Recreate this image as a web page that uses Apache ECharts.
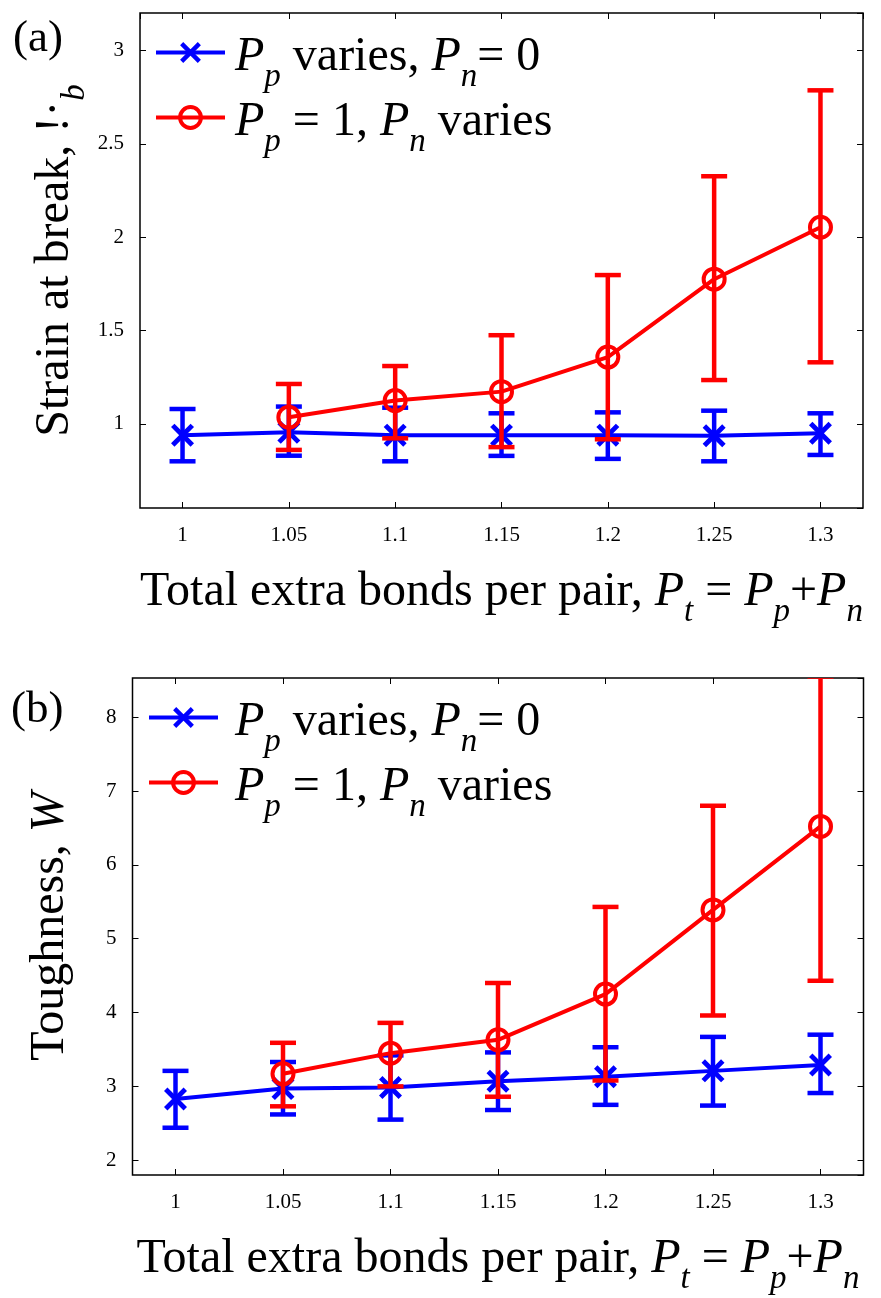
<!DOCTYPE html>
<html>
<head>
<meta charset="utf-8">
<title>Strain at break and toughness</title>
<script src="https://cdn.jsdelivr.net/npm/echarts@6/dist/echarts.min.js"></script>
<style>
  html, body { margin: 0; padding: 0; background: #fff; }
  #chart { width: 881px; height: 1298px; }
</style>
</head>
<body>
<div id="chart"></div>
<script>
// x positions (total extra bonds per pair)
const xBlue = [1, 1.05, 1.1, 1.15, 1.2, 1.25, 1.3];
const xRed = [1.05, 1.1, 1.15, 1.2, 1.25, 1.3];

// (a) strain at break
const strainBlue   = [0.94, 0.955, 0.94, 0.94, 0.94, 0.937, 0.95];
const strainBlueLo = [0.80, 0.83, 0.80, 0.829, 0.813, 0.80, 0.834];
const strainBlueHi = [1.08, 1.093, 1.087, 1.057, 1.062, 1.071, 1.057];
const strainRed    = [1.036, 1.125, 1.173, 1.358, 1.775, 2.053];
const strainRedLo  = [0.861, 0.923, 0.876, 0.918, 1.235, 1.33];
const strainRedHi  = [1.214, 1.31, 1.475, 1.797, 2.326, 2.786];

// (b) toughness
const toughBlue   = [2.83, 2.97, 2.985, 3.07, 3.13, 3.21, 3.29];
const toughBlueLo = [2.44, 2.62, 2.55, 2.68, 2.75, 2.74, 2.91];
const toughBlueHi = [3.21, 3.33, 3.42, 3.46, 3.53, 3.67, 3.70];
const toughRed    = [3.17, 3.45, 3.63, 4.25, 5.39, 6.52];
const toughRedLo  = [2.73, 3.0, 2.86, 3.08, 3.96, 4.43];
const toughRedHi  = [3.59, 3.86, 4.40, 5.43, 6.80, 8.55];

const BLUE = '#0000ff';
const RED = '#ff0000';
const SERIF = "'Liberation Serif', 'Times New Roman', serif";
const X_MARK = 'path://M0,1.5L1.5,0L10,8.5L8.5,10Z M8.5,0L10,1.5L1.5,10L0,8.5Z';

// rich text styles; subscripts are pushed down with top padding
function richSet(extraTop) {
  const subTop = extraTop + 40;
  return {
    r: { fontFamily: SERIF, fontSize: 48, lineHeight: 50, color: '#000', padding: [extraTop, 0, 0, 0] },
    i: { fontFamily: SERIF, fontSize: 48, lineHeight: 50, fontStyle: 'italic', color: '#000', padding: [extraTop, 0, 0, 0] },
    s: { fontFamily: SERIF, fontSize: 33, lineHeight: 10, fontStyle: 'italic', color: '#000', padding: [subTop, 0, 0, 0] }
  };
}
const titleRich = richSet(0);
const legendRich = richSet(10);

const xTitle = '{r|Total extra bonds per pair, }{i|P}{s|t}{r| = }{i|P}{s|p}{r|+}{i|P}{s|n}';

function pairs(xs, ys) {
  return xs.map((x, k) => [x, ys[k]]);
}
function triples(xs, lo, hi) {
  return xs.map((x, k) => [x, lo[k], hi[k]]);
}

function xAxisFor(gridIndex, position, name) {
  return {
    type: 'value', gridIndex, position, min: 0.98, max: 1.32, splitNumber: 7,
    axisLine: { show: false },
    axisTick: { show: true, inside: true, length: 6, lineStyle: { color: '#000', width: 1 } },
    splitLine: { show: false },
    axisLabel: {
      show: position === 'bottom', margin: 17, showMinLabel: false, showMaxLabel: false,
      fontFamily: SERIF, fontSize: 21, color: '#000'
    },
    name: name || '', nameLocation: 'middle', nameGap: 59, nameMoveOverlap: false,
    nameTextStyle: { rich: titleRich }
  };
}

function yAxisFor(gridIndex, position, min, max, splitNumber, name, gap) {
  return {
    type: 'value', gridIndex, position, min, max, splitNumber,
    axisLine: { show: false },
    axisTick: { show: true, inside: true, length: 6, lineStyle: { color: '#000', width: 1 } },
    splitLine: { show: false },
    axisLabel: {
      show: position === 'left', margin: 16, showMinLabel: false, showMaxLabel: false,
      fontFamily: SERIF, fontSize: 21, color: '#000'
    },
    name: name || '', nameLocation: 'middle', nameGap: gap || 60, nameMoveOverlap: false,
    nameTextStyle: { rich: titleRich }
  };
}

function errorBars(color) {
  return function (params, api) {
    const x = api.value(0);
    const hi = api.coord([x, api.value(2)]);
    const lo = api.coord([x, api.value(1)]);
    const half = 13;
    const style = { stroke: color, lineWidth: 4.5 };
    return {
      type: 'group',
      children: [
        { type: 'line', shape: { x1: hi[0], y1: hi[1], x2: lo[0], y2: lo[1] }, style },
        { type: 'line', shape: { x1: hi[0] - half, y1: hi[1], x2: hi[0] + half, y2: hi[1] }, style },
        { type: 'line', shape: { x1: lo[0] - half, y1: lo[1], x2: lo[0] + half, y2: lo[1] }, style }
      ]
    };
  };
}

function panelSeries(axisIdx, blue, blueLo, blueHi, red, redLo, redHi) {
  return [
    {
      type: 'custom', xAxisIndex: axisIdx, yAxisIndex: axisIdx, clip: true, silent: true,
      renderItem: errorBars(BLUE), encode: { x: 0, y: [1, 2] },
      data: triples(xBlue, blueLo, blueHi), z: 2
    },
    {
      name: 'blue', type: 'line', xAxisIndex: axisIdx, yAxisIndex: axisIdx,
      data: pairs(xBlue, blue), symbol: X_MARK, symbolSize: 23,
      lineStyle: { color: BLUE, width: 4 }, itemStyle: { color: BLUE, borderWidth: 0 },
      z: 3, silent: true
    },
    {
      type: 'custom', xAxisIndex: axisIdx, yAxisIndex: axisIdx, clip: true, silent: true,
      renderItem: errorBars(RED), encode: { x: 0, y: [1, 2] },
      data: triples(xRed, redLo, redHi), z: 4
    },
    {
      name: 'red', type: 'line', xAxisIndex: axisIdx, yAxisIndex: axisIdx,
      data: pairs(xRed, red), symbol: 'circle', symbolSize: 21,
      lineStyle: { color: RED, width: 4 },
      itemStyle: { color: 'rgba(0,0,0,0)', borderColor: RED, borderWidth: 4 },
      z: 5, silent: true
    }
  ];
}

function legendFor(left, top, padLeft) {
  return {
    orient: 'vertical', left, top, padding: 0, itemGap: -18,
    itemWidth: 69, itemHeight: 26, selectedMode: false,
    lineStyle: { width: 4 },
    data: [
      { name: 'blue', itemStyle: { borderWidth: 0 } },
      { name: 'red', itemStyle: { borderWidth: 4 } }
    ],
    formatter: function (name) {
      return name === 'blue'
        ? '{i|P}{s|p}{r| varies, }{i|P}{s|n}{r|= 0}'
        : '{i|P}{s|p}{r| = 1, }{i|P}{s|n}{r| varies}';
    },
    textStyle: { padding: [0, 0, 0, padLeft], rich: legendRich }
  };
}

const chart = echarts.init(document.getElementById('chart'), null, { renderer: 'canvas' });

const option = {
  backgroundColor: '#fff',
  animation: false,
  grid: [
    { left: 140, top: 13, width: 723, height: 495, show: true, borderColor: '#000', borderWidth: 1.5,
      containLabel: false, outerBoundsMode: 'none' },
    { left: 132.5, top: 678, width: 731, height: 497, show: true, borderColor: '#000', borderWidth: 1.5,
      containLabel: false, outerBoundsMode: 'none' }
  ],
  xAxis: [
    xAxisFor(0, 'bottom', xTitle),
    xAxisFor(0, 'top'),
    xAxisFor(1, 'bottom', xTitle),
    xAxisFor(1, 'top')
  ],
  yAxis: [
    yAxisFor(0, 'left', 0.55, 3.2, 5, '{r|Strain at break, !·}{s|b}', 60),
    yAxisFor(0, 'right', 0.55, 3.2, 5),
    yAxisFor(1, 'left', 1.8, 8.53, 7, '{r|Toughness, }{i|W}', 57),
    yAxisFor(1, 'right', 1.8, 8.53, 7)
  ],
  legend: [legendFor(154, 11, 5), legendFor(147, 676, 12)],
  graphic: [
    { type: 'text', left: 13, top: 17, style: { text: '(a)', font: '45px ' + SERIF, fill: '#000' } },
    { type: 'text', left: 11, top: 688, style: { text: '(b)', font: '45px ' + SERIF, fill: '#000' } }
  ],
  series: [
    ...panelSeries(0, strainBlue, strainBlueLo, strainBlueHi, strainRed, strainRedLo, strainRedHi),
    ...panelSeries(2, toughBlue, toughBlueLo, toughBlueHi, toughRed, toughRedLo, toughRedHi)
  ]
};

chart.setOption(option);
</script>
</body>
</html>
